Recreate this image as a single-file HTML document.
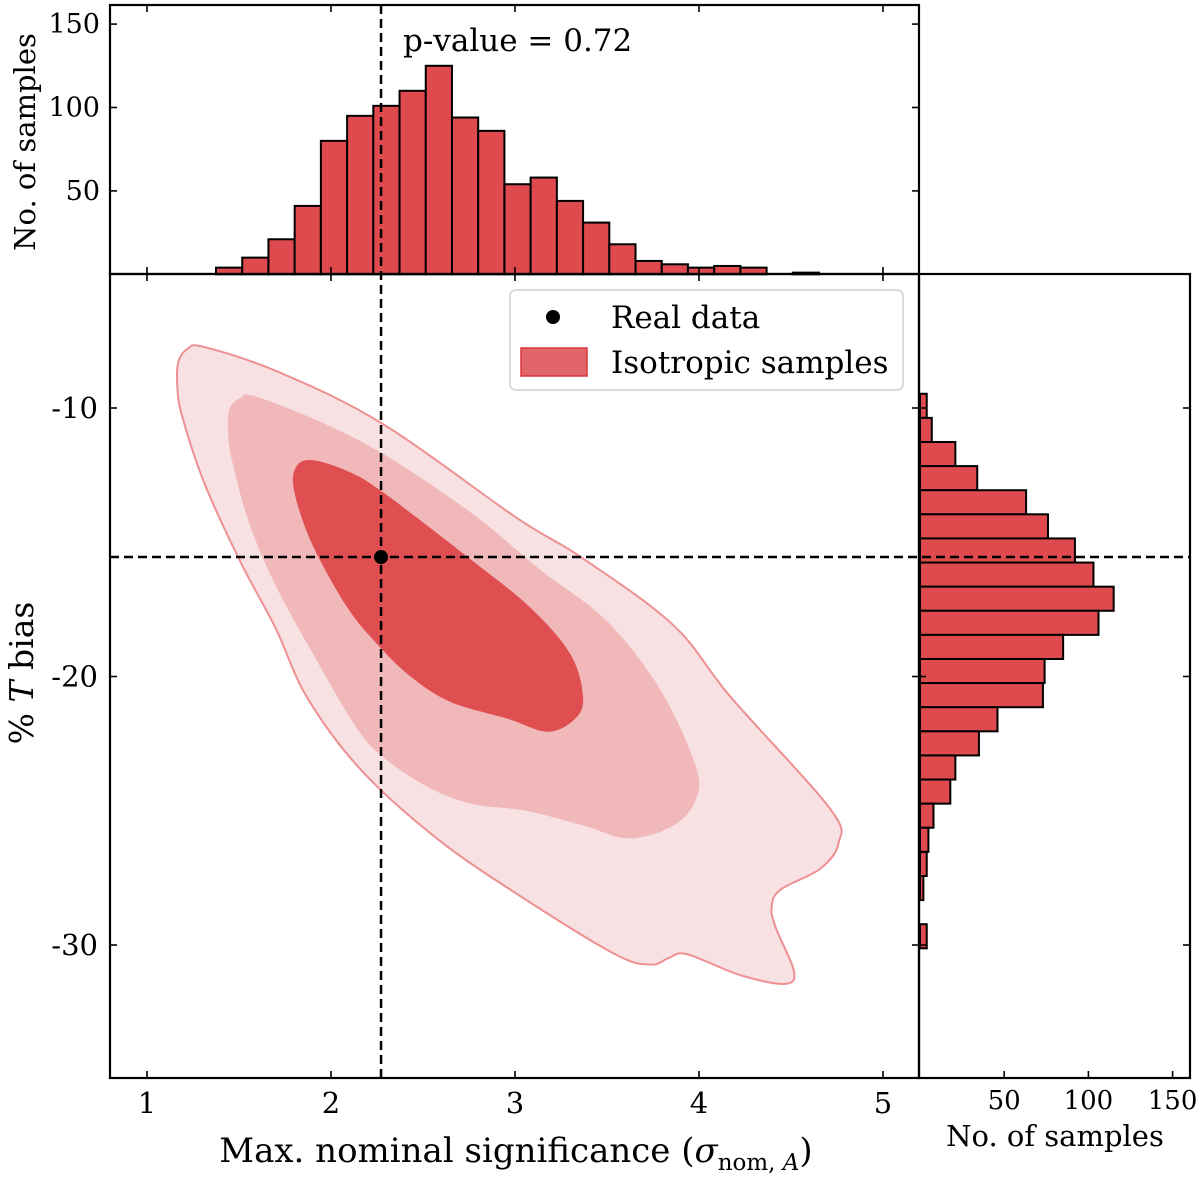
<!DOCTYPE html>
<html><head><meta charset="utf-8"><style>
body{margin:0;background:#fff}
svg{display:block;font-family:"DejaVu Serif","Liberation Serif",serif}
</style></head><body>
<svg id="chart" width="1200" height="1179" viewBox="0 0 1200 1179"></svg>
<script>
// ---- data ----
const topBinStart = 1.375;
const topBinWidth = 0.1425;
const topCounts = [4,10,21,41,80,95,101,110,125,94,86,54,58,44,31,18,8,6,4,5,4,0,1];
const rightBinTop = -9.47;
const rightBinWidth = 0.898;
const rightCounts = [4,7,21,34,63,76,92,103,115,106,85,74,73,46,35,21,18,8,5,4,2,0,4];
const realX = [2.272];
const realY = [-15.55];
const outerX = [1.17,1.22,1.313,1.726,2.283,3.011,3.353,3.859,4.174,4.712,4.759,4.661,4.443,4.395,4.418,4.516,4.467,4.223,3.934,3.837,3.739,3.543,3.011,2.575,2.163,1.870,1.701,1.505,1.313,1.190,1.165];
const outerY = [-8.3,-7.8,-7.73,-8.69,-10.60,-14.10,-15.53,-18.08,-20.78,-24.92,-26.19,-27.15,-27.94,-28.58,-29.37,-30.97,-31.45,-31.12,-30.34,-30.48,-30.73,-30.34,-28.10,-26.03,-23.48,-20.78,-18.23,-15.69,-12.82,-10.28,-9.2];
const midX = [1.45,1.51,1.58,1.918,2.283,2.769,3.133,3.497,3.788,3.982,3.982,3.859,3.618,3.375,3.060,2.769,2.527,2.283,2.136,1.918,1.701,1.554,1.459,1.44];
const midY = [-10.0,-9.62,-9.55,-10.44,-11.71,-13.94,-16.00,-17.92,-20.47,-23.33,-24.60,-25.56,-26.03,-25.56,-25.00,-24.75,-24.12,-23.00,-21.88,-19.35,-16.64,-14.26,-11.86,-10.8];
const innerX = [1.81,1.896,2.090,2.283,2.769,3.084,3.303,3.370,3.326,3.179,2.962,2.647,2.429,2.260,2.090,1.896,1.80];
const innerY = [-12.2,-11.94,-12.35,-13.14,-15.69,-17.44,-19.19,-20.78,-21.58,-22.06,-21.58,-20.94,-19.98,-18.86,-17.44,-15.05,-13.1];
const xTicks = [1,2,3,4,5];
const yTicks = [-10,-20,-30];
const countTicks = [50,100,150];

// ---- scales ----
const X = v => 147 + (v-1)*184;
const Y = v => 408 - (v+10)*26.85;
const CT = v => 274.3 - v*1.668;
const CR = v => 920 + v*1.684;
const L=110,R=919,T=274,B=1078,HT=5,RR=1190;

const NS="http://www.w3.org/2000/svg";
const svg=document.getElementById('chart');
function el(tag,attrs,parent){const e=document.createElementNS(NS,tag);for(const k in attrs)e.setAttribute(k,attrs[k]);(parent||svg).appendChild(e);return e;}

function smoothPath(xs,ys){
  const p=xs.map((x,i)=>[X(x),Y(ys[i])]);const n=p.length;let d=`M${p[0][0]},${p[0][1]}`;
  for(let i=0;i<n;i++){const p0=p[(i-1+n)%n],p1=p[i],p2=p[(i+1)%n],p3=p[(i+2)%n];
    const c1=[p1[0]+(p2[0]-p0[0])/6,p1[1]+(p2[1]-p0[1])/6],c2=[p2[0]-(p3[0]-p1[0])/6,p2[1]-(p3[1]-p1[1])/6];
    d+=`C${c1[0]},${c1[1]} ${c2[0]},${c2[1]} ${p2[0]},${p2[1]}`;}
  return d+'Z';
}
let c;
c=el('path',{d:smoothPath(outerX,outerY),fill:'#f8e1e2',stroke:'#ee9092','stroke-width':2});


c=el('path',{d:smoothPath(midX,midY),fill:'#f1b8ba'});


c=el('path',{d:smoothPath(innerX,innerY),fill:'#df4f52'});



topCounts.forEach((v,i)=>{ if(!v) return;
  const x0=X(topBinStart+i*topBinWidth),x1=X(topBinStart+(i+1)*topBinWidth);
  const r=el('rect',{x:x0,y:CT(v),width:x1-x0,height:CT(0)-CT(v),fill:'#de4a4d',stroke:'#000','stroke-width':2});
  
  
});
rightCounts.forEach((v,i)=>{ if(!v) return;
  const y0=Y(rightBinTop-i*rightBinWidth),y1=Y(rightBinTop-(i+1)*rightBinWidth);
  const r=el('rect',{x:CR(0),y:y0,width:CR(v)-CR(0),height:y1-y0,fill:'#de4a4d',stroke:'#000','stroke-width':2});
  
  
});

let dl=el('line',{x1:X(realX[0]),x2:X(realX[0]),y1:HT,y2:B,stroke:'#000','stroke-width':2.5,'stroke-dasharray':'9,5'});


dl=el('line',{x1:L,x2:RR,y1:Y(realY[0]),y2:Y(realY[0]),stroke:'#000','stroke-width':2.5,'stroke-dasharray':'9,5'});


const pt=el('circle',{cx:X(realX[0]),cy:Y(realY[0]),r:7,fill:'#000'});



[[L,T,R-L,B-T,'main-axes-frame'],[L,HT,R-L,T-HT,'top-hist-frame'],[R,T,RR-R,B-T,'right-hist-frame']].forEach(f=>{
  const r=el('rect',{x:f[0],y:f[1],width:f[2],height:f[3],fill:'none',stroke:'#000','stroke-width':2.2});
  
  
});

const tk={stroke:'#000','stroke-width':1.6};
xTicks.forEach(v=>{const x=X(v);
  el('line',{x1:x,x2:x,y1:B,y2:B-7,...tk});el('line',{x1:x,x2:x,y1:T,y2:T+7,...tk});
  el('line',{x1:x,x2:x,y1:T,y2:T-7,...tk});el('line',{x1:x,x2:x,y1:HT,y2:HT+7,...tk});
  const t=el('text',{x:x,y:B+35,'font-size':29,'text-anchor':'middle'});t.textContent=v;
  
  
});
yTicks.forEach(v=>{const y=Y(v);
  el('line',{x1:L,x2:L+7,y1:y,y2:y,...tk});el('line',{x1:R,x2:R-7,y1:y,y2:y,...tk});
  el('line',{x1:R,x2:R+7,y1:y,y2:y,...tk});el('line',{x1:RR,x2:RR-7,y1:y,y2:y,...tk});
  const t=el('text',{x:L-12,y:y+10,'font-size':29,'text-anchor':'end'});t.textContent=v;
  
  
});
countTicks.forEach(v=>{const y=CT(v);
  el('line',{x1:L,x2:L+7,y1:y,y2:y,...tk});el('line',{x1:R,x2:R-7,y1:y,y2:y,...tk});
  let t=el('text',{x:L-10,y:y+9,'font-size':27,'text-anchor':'end'});t.textContent=v;
  
  
  const x=CR(v);
  el('line',{x1:x,x2:x,y1:B,y2:B-7,...tk});
  t=el('text',{x:x,y:B+31,'font-size':26,'text-anchor':'middle'});t.textContent=v;
  
  
});
</script>
<div style="position:absolute;left:0;top:0;width:1200px;height:1179px;pointer-events:none">
<svg width="1200" height="1179" style="font-family:'DejaVu Serif','Liberation Serif',serif">
  <g>
    <rect x="510" y="290" width="393" height="100" rx="6" fill="#fff" fill-opacity="0.85" stroke="#d0d0d0" stroke-width="1.5"/>
    <circle cx="553" cy="317" r="7" fill="#000"/>
    <text x="611" y="328" font-size="31">Real data</text>
    <rect x="521" y="348" width="66" height="28" fill="#e26669" stroke="#d9363a" stroke-width="1.5"/>
    <text x="611" y="373" font-size="31">Isotropic samples</text>
  </g>
  <text x="403" y="51" font-size="31">p-value = 0.72</text>
  <text transform="translate(35,142) rotate(-90)" font-size="29" text-anchor="middle">No. of samples</text>
  <text transform="translate(33,673) rotate(-90)" font-size="33" text-anchor="middle">% <tspan font-style="italic">T</tspan> bias</text>
  <text x="516" y="1162" font-size="34" text-anchor="middle">Max. nominal significance (<tspan font-style="italic">σ</tspan><tspan font-size="23" dy="8">nom, <tspan font-style="italic">A</tspan></tspan><tspan dy="-8">)</tspan></text>
  <text x="1055" y="1146" font-size="29" text-anchor="middle">No. of samples</text>
</svg>
</div>
</body></html>
